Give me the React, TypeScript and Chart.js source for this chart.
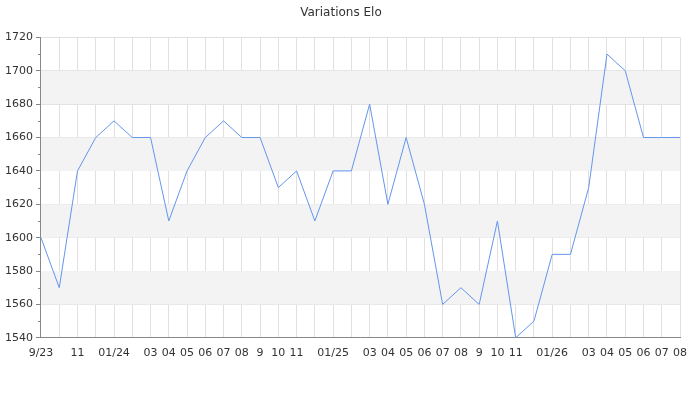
import { useEffect, useRef } from "react";
import { Chart, registerables } from "chart.js";

Chart.register(...registerables);

// Month labels (empty where the original leaves a gap)
const months = [
  "9/23", "", "11", "", "01/24", "", "03", "04", "05", "06", "07", "08",
  "9", "10", "11", "", "01/25", "", "03", "04", "05", "06", "07", "08",
  "9", "10", "11", "", "01/26", "", "03", "04", "05", "06", "07", "08"
];

// Elo rating per month
const elo = [
  1600, 1570, 1640, 1660, 1670, 1660, 1660, 1610, 1640, 1660, 1670, 1660,
  1660, 1630, 1640, 1610, 1640, 1640, 1680, 1620, 1660, 1620, 1560, 1570,
  1560, 1610, 1540, 1550, 1590, 1590, 1630, 1710, 1700, 1660, 1660, 1660
];

const yMin = 1540;
const yMax = 1720;

// alternating grey bands + minor ticks on the y axis
const bandsPlugin = {
  id: "bands",
  beforeDatasetsDraw(chart: any) {
    const { ctx, chartArea, scales } = chart;
    const y = scales.y;
    ctx.save();
    ctx.fillStyle = "#f3f3f3";
    for (let v = 1560; v < yMax; v += 40) {
      const top = y.getPixelForValue(v + 20);
      const bottom = y.getPixelForValue(v);
      ctx.fillRect(chartArea.left, top, chartArea.right - chartArea.left, bottom - top);
    }
    ctx.restore();
  },
  afterDraw(chart: any) {
    const { ctx, chartArea, scales } = chart;
    const y = scales.y;
    ctx.save();
    ctx.strokeStyle = "#888";
    ctx.lineWidth = 1;
    for (let v = yMin + 10; v < yMax; v += 20) {
      const py = Math.round(y.getPixelForValue(v)) + 0.5;
      ctx.beginPath();
      ctx.moveTo(chartArea.left - 3, py);
      ctx.lineTo(chartArea.left, py);
      ctx.stroke();
    }
    ctx.restore();
  }
};

export default function App() {
  const chartRef = useRef<HTMLCanvasElement>(null);
  const chartInstance = useRef<Chart | null>(null);

  useEffect(() => {
    if (!chartRef.current) return;
    if (chartInstance.current) chartInstance.current.destroy();

    Chart.defaults.font.family = "'DejaVu Sans', sans-serif";
    Chart.defaults.font.size = 11;
    Chart.defaults.color = "#333";

    chartInstance.current = new Chart(chartRef.current, {
      type: "line",
      data: {
        labels: months,
        datasets: [
          {
            label: "Elo",
            data: elo,
            borderColor: "#6495ed",
            borderWidth: 1,
            pointRadius: 0,
            tension: 0,
            fill: false
          }
        ]
      },
      options: {
        responsive: true,
        maintainAspectRatio: false,
        animation: false,
        layout: { padding: { left: 2, right: 20, top: 0, bottom: 31 } },
        plugins: {
          legend: { display: false },
          tooltip: { enabled: false },
          title: {
            display: true,
            text: "Variations Elo",
            font: { size: 12, weight: "normal" },
            color: "#333",
            padding: { top: 6, bottom: 17 }
          }
        },
        scales: {
          x: {
            offset: false,
            grid: {
              color: "#e0e0e0",
              drawTicks: false
            },
            border: { color: "#888" },
            ticks: {
              autoSkip: false,
              maxRotation: 0,
              padding: 9
            }
          },
          y: {
            min: yMin,
            max: yMax,
            grid: {
              color: "#e0e0e0",
              tickColor: "#888",
              tickLength: 5
            },
            border: { color: "#888" },
            ticks: {
              stepSize: 20,
              padding: 3,
              callback: (value) => String(value)
            }
          }
        }
      },
      plugins: [bandsPlugin]
    });

    return () => {
      if (chartInstance.current) {
        chartInstance.current.destroy();
        chartInstance.current = null;
      }
    };
  }, []);

  return (
    <div style={{ position: "fixed", left: 0, top: 0, width: 700, height: 400, background: "#fff" }}>
      <canvas ref={chartRef} />
    </div>
  );
}
